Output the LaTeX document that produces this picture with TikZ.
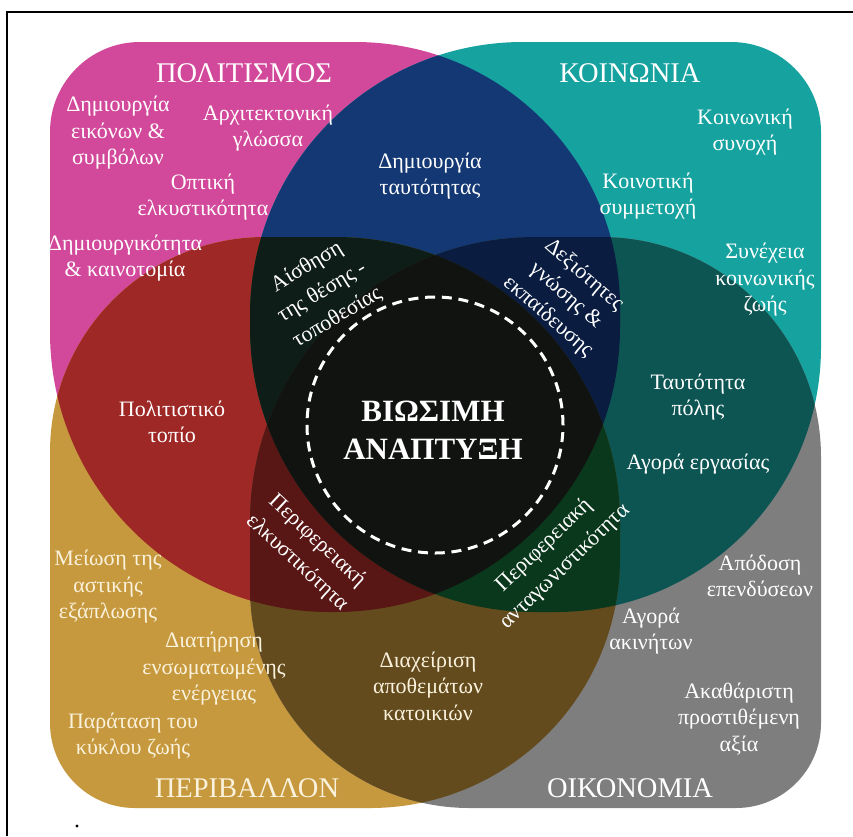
\documentclass[tikz,border=0pt]{standalone}
\usepackage{fontspec}
\setmainfont{Liberation Serif}
\definecolor{cP}{RGB}{210,72,154}
\definecolor{cT}{RGB}{22,163,160}
\definecolor{cG}{RGB}{199,153,62}
\definecolor{cY}{RGB}{126,126,127}
\definecolor{cPT}{RGB}{20,56,116}
\definecolor{cPG}{RGB}{158,40,38}
\definecolor{cPY}{RGB}{104,37,77}
\definecolor{cTG}{RGB}{18,98,40}
\definecolor{cTY}{RGB}{12,85,82}
\definecolor{cGY}{RGB}{99,75,30}
\definecolor{cPTG}{RGB}{15,29,25}
\definecolor{cPTY}{RGB}{10,28,64}
\definecolor{cPGY}{RGB}{88,22,20}
\definecolor{cTGY}{RGB}{10,56,28}
\definecolor{cPTGY}{RGB}{17,19,17}
\definecolor{cream}{RGB}{250,242,220}
% blob: x0 y0 x1 y1 rTL rTR rBR rBL  (image coordinates, y downwards)
\newcommand\blobpath[8]{(#1+#5,#2) -- (#3-#6,#2) arc[start angle=-90,end angle=0,radius=#6]
  -- (#3,#4-#7) arc[start angle=0,end angle=90,radius=#7]
  -- (#1+#8,#4) arc[start angle=90,end angle=180,radius=#8]
  -- (#1,#2+#5) arc[start angle=180,end angle=270,radius=#5] -- cycle}
\newcommand\pinkP{\blobpath{50}{42}{620}{612}{90}{265}{285}{280}}
\newcommand\tealP{\blobpath{250}{42}{821}{612}{273}{90}{265}{285}}
\newcommand\goldP{\blobpath{50}{237}{620}{808}{215}{285}{250}{85}}
\newcommand\grayP{\blobpath{250}{237}{821}{808}{285}{220}{85}{220}}
\begin{document}
\begin{tikzpicture}[x=1pt,y=-1pt,
  lbl/.style={text=white, font=\fontsize{22}{26.5}\selectfont, align=center, inner sep=0pt},
  rlbl/.style={text=white, font=\fontsize{22}{29.5}\selectfont, align=center, inner sep=0pt},
  ttl/.style={text=white, font=\fontsize{28.5}{31}\selectfont, inner sep=0pt},
  ring/.style={circle, draw=white, line width=3pt, dash pattern=on 10pt off 6.75pt, minimum size=256pt, inner sep=0pt},
  core/.style={text=white, font=\fontsize{31}{38}\selectfont\bfseries, align=center, inner sep=0pt}]
\useasboundingbox (0,0) rectangle (853,836);
\fill[white] (0,0) rectangle (853,836);
% single shapes
\fill[cP] \pinkP;
\fill[cT] \tealP;
\fill[cG] \goldP;
\fill[cY] \grayP;
% pairs
\begin{scope}\clip \pinkP; \fill[cPT] \tealP; \end{scope}
\begin{scope}\clip \pinkP; \fill[cPG] \goldP; \end{scope}
\begin{scope}\clip \pinkP; \fill[cPY] \grayP; \end{scope}
\begin{scope}\clip \tealP; \fill[cTG] \goldP; \end{scope}
\begin{scope}\clip \tealP; \fill[cTY] \grayP; \end{scope}
\begin{scope}\clip \goldP; \fill[cGY] \grayP; \end{scope}
% triples
\begin{scope}\clip \pinkP; \clip \tealP; \fill[cPTG] \goldP; \end{scope}
\begin{scope}\clip \pinkP; \clip \tealP; \fill[cPTY] \grayP; \end{scope}
\begin{scope}\clip \pinkP; \clip \goldP; \fill[cPGY] \grayP; \end{scope}
\begin{scope}\clip \tealP; \clip \goldP; \fill[cTGY] \grayP; \end{scope}
% all four
\begin{scope}\clip \pinkP; \clip \tealP; \clip \goldP; \fill[cPTGY] \grayP; \end{scope}
% frame
\draw[black, line width=2pt] (7,836) -- (7,12) -- (853,12);
\fill[black] (77,826) circle[radius=1.6];
% centre
\node[ring] (ring) at (435,425) {};
\node[core] (core) at (433,430) {ΒΙΩΣΙΜΗ\\ΑΝΑΠΤΥΞΗ};
% titles
\node[ttl] (tpol) at (244,73) {ΠΟΛΙΤΙΣΜΟΣ};
\node[ttl] (tkoin) at (630,73) {ΚΟΙΝΩΝΙΑ};
\node[ttl, text=cream] (tper) at (247,788) {ΠΕΡΙΒΑΛΛΟΝ};
\node[ttl] (toik) at (630,788) {ΟΙΚΟΝΟΜΙΑ};
% culture
\node[lbl] (a1) at (118,133) {Δημιουργία\\εικόνων \&\\συμβόλων};
\node[lbl] (a2) at (268,128) {Αρχιτεκτονική\\γλώσσα};
\node[lbl] (a3) at (203,197) {Οπτική\\ελκυστικότητα};
\node[lbl] (a4) at (125,258) {Δημιουργικότητα\\\& καινοτομία};
\node[lbl] (a5) at (172,422) {Πολιτιστικό\\τοπίο};
% society
\node[lbl] (b1) at (430,176) {Δημιουργία\\ταυτότητας};
\node[lbl] (b2) at (745,132) {Κοινωνική\\συνοχή};
\node[lbl] (b3) at (648,196) {Κοινοτική\\συμμετοχή};
\node[lbl] (b4) at (765,280) {Συνέχεια\\κοινωνικής\\ζωής};
\node[lbl] (b5) at (698,397) {Ταυτότητα\\πόλης};
\node[lbl] (b6) at (698,464) {Αγορά εργασίας};
% economy
\node[lbl] (c1) at (760,576) {Απόδοση\\επενδύσεων};
\node[lbl] (c2) at (651,631) {Αγορά\\ακινήτων};
\node[lbl] (c3) at (739,719) {Ακαθάριστη\\προστιθέμενη\\αξία};
% environment
\node[lbl, text=cream] (d1) at (108,587) {Μείωση της\\αστικής\\εξάπλωσης};
\node[lbl, text=cream] (d2) at (214,669) {Διατήρηση\\ενσωματωμένης\\ενέργειας};
\node[lbl, text=cream] (d3) at (133,736) {Παράταση του\\κύκλου ζωής};
\node[lbl, text=cream] (d4) at (428,686) {Διαχείριση\\αποθεμάτων\\κατοικιών};
% rotated
\node[rlbl, rotate=31] (r1) at (322,292) {Αίσθηση\\της θέσης -\\τοποθεσίας};
\node[rlbl, rotate=-41, font=\fontsize{22}{27.5}\selectfont] (r2) at (566,296) {Δεξιότητες\\γνώσης \&\\εκπαίδευσης};
\node[rlbl, rotate=-43] (r3) at (307,552) {Περιφερειακή\\ελκυστικότητα};
\node[rlbl, rotate=44] (r4) at (555,556) {Περιφερειακή\\ανταγωνιστικότητα};
\end{tikzpicture}
\end{document}
